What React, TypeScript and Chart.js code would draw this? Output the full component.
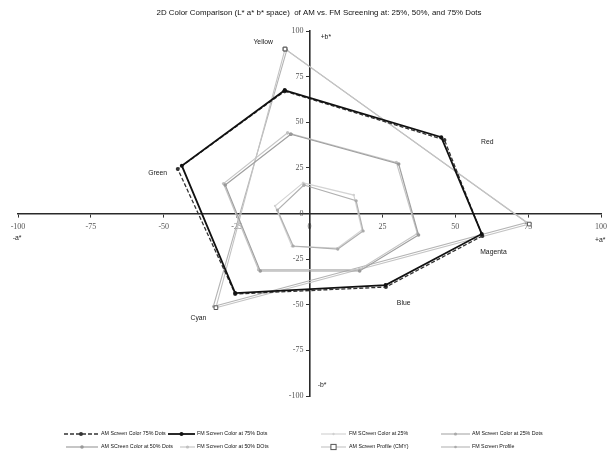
import React, { useEffect, useRef } from 'react';
import { Chart, registerables } from 'chart.js';

Chart.register(...registerables);

// Hue order of the six-point polygons
const hues = ['Yellow', 'Red', 'Magenta', 'Blue', 'Cyan', 'Green'];

// a* and b* values, one per hue
const am75A = [-8.5, 46.3, 59.3, 26.2, -25.5, -45.2];
const am75B = [67.0, 40.3, -12.3, -40.3, -44.1, 24.4];
const fm75A = [-8.5, 45.2, 59.1, 26.1, -25.5, -43.8];
const fm75B = [67.5, 41.8, -11.2, -39.2, -43.6, 26.2];
const am50A = [-6.4, 30.6, 37.4, 17.2, -16.9, -28.9];
const am50B = [43.4, 27.1, -11.8, -31.5, -31.5, 15.6];
const fm50A = [-7.5, 29.8, 37.0, 17.0, -17.5, -29.5];
const fm50B = [44.2, 28.0, -11.0, -30.8, -30.8, 16.4];
const am25A = [-1.9, 16.0, 18.4, 9.7, -5.6, -11.0];
const am25B = [15.6, 7.0, -9.6, -19.5, -17.8, 1.9];
const fm25A = [-2.2, 15.2, 18.0, 9.5, -6.0, -11.8];
const fm25B = [16.8, 10.1, -9.0, -19.0, -18.0, 4.2];

// Profile triangles (CMY primaries)
const profileHues = ['Yellow', 'Magenta', 'Cyan'];
const amProfA = [-8.4, 75.4, -32.1];
const amProfB = [90.1, -5.8, -51.6];
const fmProfA = [-7.8, 74.5, -33.0];
const fmProfB = [89.5, -5.0, -51.0];

// Axis tick values
const axisTicks = [-100, -75, -50, -25, 0, 25, 50, 75, 100];

const titleText = '2D Color Comparison (L* a* b* space)  of AM vs. FM Screening at: 25%, 50%, and 75% Dots';

// Text annotations anchored in data space
const annotations: { text: string; a: number; b: number }[] = [
  { text: 'Yellow', a: -15.9, b: 94 },
  { text: 'Red', a: 61, b: 39 },
  { text: 'Green', a: -52.1, b: 22.2 },
  { text: 'Magenta', a: 63.1, b: -21.1 },
  { text: 'Blue', a: 32.3, b: -49 },
  { text: 'Cyan', a: -38.1, b: -57.3 },
  { text: '+b*', a: 5.6, b: 96.7 },
  { text: '-b*', a: 4.3, b: -94 },
  { text: '-a*', a: -100.3, b: -13.4 },
  { text: '+a*', a: 99.7, b: -14.5 },
];

const closed = (a: number[], b: number[]) => {
  const pts = a.map((x, i) => ({ x, y: b[i] }));
  pts.push({ x: a[0], y: b[0] });
  return pts;
};

type DS = {
  label: string;
  a: number[];
  b: number[];
  color: string;
  width: number;
  dash: number[];
  point: string;
  radius: number;
  pointFill: string;
  pointBorder: string;
};

const series: DS[] = [
  { label: 'FM Screen Color at 75% Dots', a: fm75A, b: fm75B, color: '#111111', width: 1.8, dash: [], point: 'circle', radius: 2, pointFill: '#111111', pointBorder: '#111111' },
  { label: 'AM Screen Color 75% Dots', a: am75A, b: am75B, color: '#333333', width: 1.3, dash: [4, 2], point: 'circle', radius: 2, pointFill: '#333333', pointBorder: '#333333' },
  { label: 'AM SCreen Color at 50% Dots', a: am50A, b: am50B, color: '#a0a0a0', width: 1.2, dash: [], point: 'circle', radius: 1.8, pointFill: '#999999', pointBorder: '#999999' },
  { label: 'FM Screen Color at 50% DOts', a: fm50A, b: fm50B, color: '#c6c6c6', width: 1.2, dash: [], point: 'circle', radius: 1.6, pointFill: '#c0c0c0', pointBorder: '#c0c0c0' },
  { label: 'AM Screen Color at 25% Dots', a: am25A, b: am25B, color: '#b0b0b0', width: 1.2, dash: [], point: 'circle', radius: 1.6, pointFill: '#aaaaaa', pointBorder: '#aaaaaa' },
  { label: 'FM SCreen Color at 25%', a: fm25A, b: fm25B, color: '#d4d4d4', width: 1.2, dash: [], point: 'circle', radius: 1.2, pointFill: '#d0d0d0', pointBorder: '#d0d0d0' },
  { label: 'AM Screen Profile (CMY)', a: amProfA, b: amProfB, color: '#c4c4c4', width: 1.1, dash: [], point: 'rect', radius: 2.6, pointFill: '#ffffff', pointBorder: '#555555' },
  { label: 'FM Screen Profile', a: fmProfA, b: fmProfB, color: '#b4b4b4', width: 1.1, dash: [], point: 'circle', radius: 1.3, pointFill: '#aaaaaa', pointBorder: '#aaaaaa' },
];

// legend grid: [series label, column, row]
const legendLayout: [string, number, number][] = [
  ['AM Screen Color 75% Dots', 0, 0],
  ['FM Screen Color at 75% Dots', 1, 0],
  ['FM SCreen Color at 25%', 2, 0],
  ['AM Screen Color at 25% Dots', 3, 0],
  ['AM SCreen Color at 50% Dots', 0, 1],
  ['FM Screen Color at 50% DOts', 1, 1],
  ['AM Screen Profile (CMY)', 2, 1],
  ['FM Screen Profile', 3, 1],
];
// per row line starts per column
const legendLineStart = [
  [64, 168, 321, 441],
  [66, 180, 321, 441],
];
const legendLineEnd = [98, 195, 346, 470];
const legendTextX = [101, 197, 349, 472];
const legendRowY = [434, 447];

const SANS = '"Liberation Sans", Arial, sans-serif';
const SERIF = '"Liberation Serif", "Times New Roman", serif';

const drawMarker = (ctx: CanvasRenderingContext2D, s: DS, x: number, y: number) => {
  ctx.save();
  ctx.setLineDash([]);
  ctx.fillStyle = s.pointFill;
  ctx.strokeStyle = s.pointBorder;
  ctx.lineWidth = 1;
  if (s.point === 'rect') {
    const r = s.radius;
    ctx.fillRect(x - r, y - r, 2 * r, 2 * r);
    ctx.strokeRect(x - r, y - r, 2 * r, 2 * r);
  } else {
    ctx.beginPath();
    ctx.arc(x, y, s.radius, 0, Math.PI * 2);
    ctx.fill();
  }
  ctx.restore();
};

const overlayPlugin = {
  id: 'overlay',
  afterDraw(chart: any) {
    const ctx: CanvasRenderingContext2D = chart.ctx;
    const xs = chart.scales.x;
    const ys = chart.scales.y;
    ctx.save();
    // title
    ctx.fillStyle = '#111111';
    ctx.font = `7.9px ${SANS}`;
    ctx.textAlign = 'center';
    ctx.textBaseline = 'middle';
    ctx.fillText(titleText, 319, 13);
    // annotations
    ctx.font = `6.8px ${SANS}`;
    ctx.fillStyle = '#1a1a1a';
    annotations.forEach((an) => {
      ctx.fillText(an.text, xs.getPixelForValue(an.a), ys.getPixelForValue(an.b));
    });
    // legend
    ctx.font = `5.3px ${SANS}`;
    ctx.textAlign = 'left';
    legendLayout.forEach(([label, col, row]) => {
      const s = series.find((d) => d.label === label)!;
      const y = legendRowY[row];
      const x0 = legendLineStart[row][col];
      const x1 = legendLineEnd[col];
      ctx.save();
      ctx.strokeStyle = s.color;
      ctx.lineWidth = s.width;
      ctx.setLineDash(s.dash);
      ctx.beginPath();
      ctx.moveTo(x0, y);
      ctx.lineTo(x1, y);
      ctx.stroke();
      ctx.restore();
      drawMarker(ctx, s, (x0 + x1) / 2, y);
      ctx.fillStyle = '#111111';
      ctx.fillText(label, legendTextX[col], y);
    });
    ctx.restore();
  },
};

export default function App() {
  const ref = useRef<HTMLCanvasElement | null>(null);
  useEffect(() => {
    if (!ref.current) return;
    const axisCommon = (pad: number) => ({
      type: 'linear',
      position: 'center',
      min: -100,
      max: 100,
      afterBuildTicks: (scale: any) => {
        scale.ticks = axisTicks.map((v) => ({ value: v }));
      },
      ticks: {
        autoSkip: false,
        maxRotation: 0,
        color: '#555555',
        padding: pad,
        font: { family: SERIF, size: 8 },
      },
      grid: {
        drawOnChartArea: false,
        drawTicks: true,
        tickLength: 3,
        color: '#333333',
        lineWidth: 1,
      },
      border: { display: true, color: '#2a2a2a', width: 1.6 },
    });
    const chart = new Chart(ref.current, {
      type: 'scatter',
      data: {
        datasets: series.map((s) => ({
          label: s.label,
          data: closed(s.a, s.b),
          showLine: true,
          tension: 0,
          borderColor: s.color,
          borderWidth: s.width,
          borderDash: s.dash,
          backgroundColor: s.pointFill,
          pointBackgroundColor: s.pointFill,
          pointBorderColor: s.pointBorder,
          pointBorderWidth: s.point === 'rect' ? 1 : 0,
          pointStyle: s.point as any,
          pointRadius: s.radius,
          fill: false,
          clip: false as any,
        })),
      },
      options: {
        animation: false,
        responsive: false,
        devicePixelRatio: 1,
        layout: { padding: { left: 18, right: 10, top: 31, bottom: 59 } },
        plugins: {
          legend: { display: false },
          title: { display: false },
          tooltip: { enabled: false },
        },
        scales: {
          x: axisCommon(6) as any,
          y: axisCommon(3) as any,
        },
      },
      plugins: [overlayPlugin],
    });
    return () => chart.destroy();
  }, []);
  return (
    <div style={{ position: 'fixed', left: 0, top: 0, width: 613, height: 455, background: '#ffffff' }}>
      <canvas ref={ref} width={613} height={455} style={{ display: 'block' }} />
    </div>
  );
}
